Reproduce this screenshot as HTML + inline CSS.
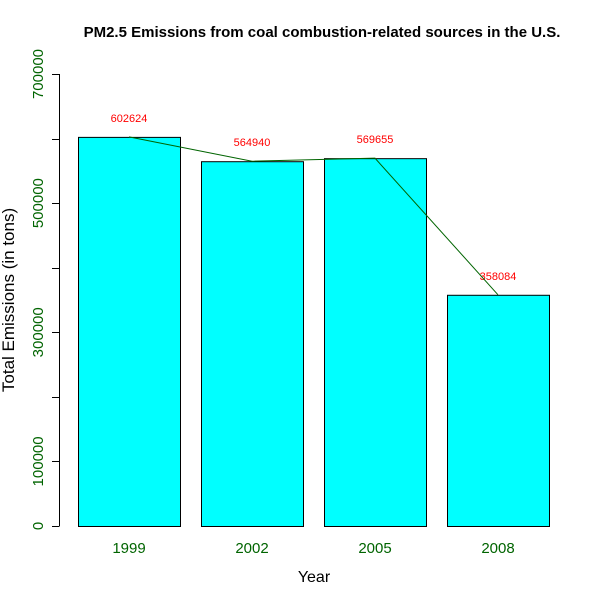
<!DOCTYPE html>
<html><head><meta charset="utf-8"><style>
body{margin:0;background:#fff}
svg{display:block;font-family:"Liberation Sans",Arial,sans-serif}
</style></head><body>
<svg id="c" width="600" height="600">
<text x="322" y="37" text-anchor="middle" font-weight="bold" font-size="15">PM2.5 Emissions from coal combustion-related sources in the U.S.</text>
<text transform="translate(14,300) rotate(-90)" text-anchor="middle" font-size="17">Total Emissions (in tons)</text>
<text x="314" y="582" text-anchor="middle" font-size="16">Year</text>
<g id="bars"></g><g id="axis"></g>
</svg>
<script>
const years=["1999","2002","2005","2008"];
const values=[602624,564940,569655,358084];
const ticks=[0,100000,200000,300000,400000,500000,600000,700000];
const tickLabels=["0","100000","","300000","","500000","","700000"];
const NS="http://www.w3.org/2000/svg";
const svg=document.getElementById('c');
const y=v=>526-v*452/700000;
const xl=i=>78+i*123, bw=102, xc=i=>xl(i)+bw/2;
function mk(t,a,p){const e=document.createElementNS(NS,t);for(const k in a)e.setAttribute(k,a[k]);(p||svg).appendChild(e);return e;}
const bars=document.getElementById('bars'),axis=document.getElementById('axis');
values.forEach((v,i)=>{
 const r=mk('rect',{x:xl(i)+0.5,y:y(v)+0.5,width:bw,height:526-y(v),fill:'#00ffff',stroke:'#000','stroke-width':1},bars);
 
 
 const t=mk('text',{x:xc(i),y:y(v)-15,'text-anchor':'middle','font-size':11,fill:'#ff0000'});
 t.textContent=v;
 
 
 const yl=mk('text',{x:xc(i),y:553,'text-anchor':'middle','font-size':15,fill:'#006400'});
 yl.textContent=years[i];
 
 
});
const pl=mk('polyline',{points:values.map((v,i)=>xc(i)+','+y(v)).join(' '),fill:'none',stroke:'#006400','stroke-width':1});


const al=mk('line',{x1:59.5,x2:59.5,y1:y(0),y2:y(700000),stroke:'#000'},axis);


ticks.forEach((v,i)=>{
 const tk=mk('line',{x1:52,x2:59.5,y1:Math.round(y(v))+0.5,y2:Math.round(y(v))+0.5,stroke:'#000'},axis);
 
 
 if(tickLabels[i]){
  const t=mk('text',{transform:`translate(43,${y(v)}) rotate(-90)`,'text-anchor':'middle','font-size':15,fill:'#006400'},axis);
  t.textContent=tickLabels[i];
  
  
 }
});
</script>
</body></html>
